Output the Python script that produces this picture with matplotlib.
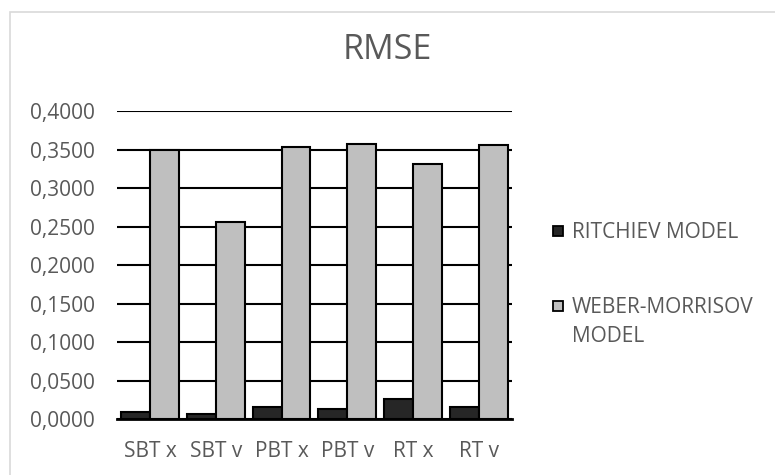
import matplotlib.pyplot as plt
import numpy as np
from matplotlib.patches import Rectangle
from matplotlib.ticker import MultipleLocator, FuncFormatter

categories = ["SBT x", "SBT v", "PBT x", "PBT v", "RT x", "RT v"]
ritchiev = [0.0099, 0.0069, 0.0164, 0.0138, 0.0260, 0.0156]
weber_morrisov = [0.3500, 0.2556, 0.3537, 0.3576, 0.3316, 0.3559]
series_names = ["RITCHIEV MODEL", "WEBER-MORRISOV\nMODEL"]

plt.rcParams['font.family'] = ['Open Sans', 'DejaVu Sans']
text_color = "#595959"
dark = "#262626"
light = "#bfbfbf"

fig = plt.figure(figsize=(7.75, 4.75), dpi=100)
ax = fig.add_axes([0.1514, 0.1173, 0.5086, 0.649])

x = np.arange(len(categories))
w = 0.44
ax.bar(x - w / 2, ritchiev, w, color=dark, edgecolor="black", linewidth=1.5, zorder=3)
ax.bar(x + w / 2, weber_morrisov, w, color=light, edgecolor="black", linewidth=1.5, zorder=3)

ax.set_xlim(-0.5, len(categories) - 0.5)
ax.set_ylim(0, 0.4)
ax.yaxis.set_major_locator(MultipleLocator(0.05))
ax.yaxis.set_major_formatter(FuncFormatter(lambda v, p: f"{v:.4f}".replace(".", ",")))
ax.set_xticks(x)
ax.set_xticklabels(categories)
ax.grid(axis="y", color="black", linewidth=1.5, zorder=0)
ax.set_axisbelow(True)

for side in ["left", "right", "top"]:
    ax.spines[side].set_visible(False)
ax.spines["bottom"].set_linewidth(2.0)
ax.spines["bottom"].set_zorder(4)
ax.tick_params(axis="both", length=0, labelsize=15, labelcolor=text_color)
ax.tick_params(axis="x", pad=15.5)
ax.tick_params(axis="y", pad=16)

fig.text(0.5, 0.895, "RMSE", ha="center", va="center", fontsize=24.5, color=text_color)

# legend drawn by hand so the swatch sits beside the first line of a wrapped label
for yc, col, name in [(0.514, dark, series_names[0]), (0.356, light, series_names[1])]:
    fig.add_artist(Rectangle((0.7135, yc - 0.011), 0.0125, 0.0205, transform=fig.transFigure,
                             facecolor=col, edgecolor="black", linewidth=1.3))
    fig.text(0.738, yc + 0.018, name, ha="left", va="top", fontsize=15,
             color=text_color, linespacing=1.45)

# chart frame
fig.add_artist(Rectangle((0.0135, -0.01), 1.0, 0.985, transform=fig.transFigure,
                         fill=False, edgecolor="#d9d9d9", linewidth=1.2))

fig.savefig("out.png", dpi=100)
